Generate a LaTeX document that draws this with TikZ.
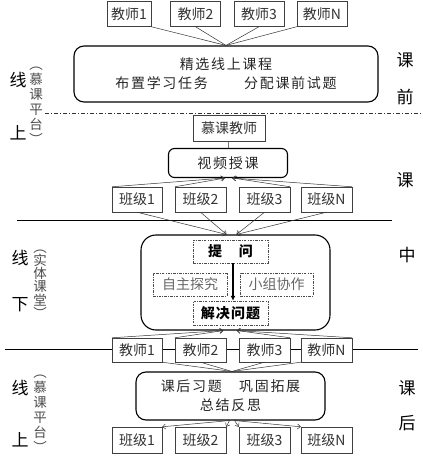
\documentclass[tikz,border=0pt]{standalone}
\usepackage{fontspec}
\setmainfont{Noto Sans CJK SC}
\usetikzlibrary{arrows.meta}

\begin{document}
\begin{tikzpicture}[x=1pt, y=-1pt,
  box/.style={draw=black!75, fill=white, minimum width=50pt, minimum height=25pt,
    inner sep=0pt, text=black!80, font=\fontsize{14}{14}\selectfont},
  rbox/.style={draw, line width=1.1pt, fill=white, inner sep=0pt, align=center,
    text=black!85, font=\fontsize{14}{19}\selectfont\addfontfeature{LetterSpace=12}},
  dbox/.style={draw=black!70, dash pattern=on 2.5pt off 1.2pt on 0.8pt off 1.2pt,
    minimum height=23pt, inner sep=0pt, font=\fontsize{14}{14}\selectfont},
  side/.style={font=\fontsize{17}{17}\selectfont},
  vcol/.style={align=center, text=black!70},
  link/.style={black!80, line width=0.5pt},
  arr/.style={link, -{Straight Barb[length=3pt,width=5pt]}}]
  \useasboundingbox (0,0) rectangle (422,470);

  % before class
  \node[box, minimum width=44pt] (t1) at (129,14) {教师1};
  \node[box] (t2) at (195.5,14) {教师2};
  \node[box] (t3) at (259,14) {教师3};
  \node[box] (tN) at (322,14) {教师N};
  \node[rbox, rounded corners=10pt, minimum width=304pt, minimum height=56pt] (plan) at (226,74)
    {精选线上课程\\布置学习任务\hspace{2.6em}分配课前试题};
  \draw[link] (t1.south east) -- (plan.north);
  \draw[link] (t2.south) -- (plan.north);
  \draw[link] (t3.south) -- (plan.north);
  \draw[link] (tN.south west) -- (plan.north);
  \node[side] (k1) at (405,60) {课};
  \node[side] (q1) at (405,97) {前};
  \node[side] (x1) at (18,80) {线};
  \node[side] (s1) at (18,133) {上};
  \node[vcol, font=\fontsize{13.5}{15}\selectfont] (m1) at (36,106) {︵\\慕\\课\\平\\台\\︶};
  \draw[black!80, line width=0.8pt, dash pattern=on 4pt off 2pt on 1pt off 2pt] (45,113) -- (422,113);

  % in class
  \node[box, minimum width=72pt, minimum height=26pt] (mt) at (229,128) {慕课教师};
  \node[rbox, rounded corners=6pt, minimum width=119pt, minimum height=29pt] (video) at (228,163) {视频授课};
  \draw[link] (mt) -- (video);
  \node[box] (c1) at (137,199.5) {班级1};
  \node[box, minimum width=51pt] (c2) at (200.5,199.5) {班级2};
  \node[box, minimum width=51pt] (c3) at (264.5,199.5) {班级3};
  \node[box, minimum width=51pt] (cN) at (326.5,199.5) {班级N};
  \draw[arr] (c1.north west) -- ([xshift=-4pt]video.south);
  \draw[arr] (c2.north west) -- ([xshift=-3pt]video.south);
  \draw[arr] (c3.north east) -- ([xshift=5pt]video.south);
  \draw[arr] (cN.north east) -- ([xshift=4pt]video.south);
  \node[side] (k2) at (405,180) {课};
  \draw[black, line width=0.9pt] (17,220) -- (392,220);

  \node[draw, line width=1.1pt, rounded corners=15pt, minimum width=189pt, minimum height=95pt] (room) at (235.5,282.5) {};
  \node[dbox, minimum width=75pt, font=\fontsize{14}{14}\selectfont\bfseries] (ask) at (230.5,251.5) {提\hspace{1.2em}问};
  \node[dbox, minimum width=74pt, text=black!60] (self) at (190,284.5) {自主探究};
  \node[dbox, minimum width=73pt, text=black!60] (group) at (276.5,284.5) {小组协作};
  \node[dbox, minimum width=75pt, minimum height=24pt, font=\fontsize{14}{14}\selectfont\bfseries\addfontfeature{LetterSpace=8}] (solve) at (230.5,313) {解决问题};
  \draw[line width=1.3pt, -{Latex[length=5pt,width=5pt]}] ([xshift=2.5pt]ask.south) -- ([xshift=2.5pt]solve.north);
  \draw[arr] (c1.south) -- ([xshift=-9pt]room.north);
  \draw[arr] (c2.south) -- ([xshift=-9pt]room.north);
  \draw[arr] (c3.south) -- ([xshift=1pt]room.north);
  \draw[arr] (cN.south) -- ([xshift=1pt]room.north);
  \node[side] (x2) at (20,258) {线};
  \node[side] (s2) at (20,305) {下};
  \node[vcol, font=\fontsize{13.5}{13.3}\selectfont] (m2) at (40,284) {︵\\实\\体\\课\\堂\\︶};
  \node[side] (k3) at (407,255) {中};

  % after class
  \draw[black, line width=0.9pt] (5,349) -- (418,349);
  \node[box, minimum height=24pt] (e1) at (137,350) {教师1};
  \node[box, minimum width=51pt, minimum height=24pt] (e2) at (200.5,350) {教师2};
  \node[box, minimum width=51pt, minimum height=24pt] (e3) at (264.5,350) {教师3};
  \node[box, minimum width=51pt, minimum height=24pt] (eN) at (326.5,350) {教师N};
  \draw[arr] (e1.north west) -- ([xshift=-12.5pt]room.south);
  \draw[arr] (e2.north west) -- ([xshift=-12pt]room.south);
  \draw[arr] (e3.north east) -- ([xshift=1.5pt]room.south);
  \draw[arr] (eN.north east) -- ([xshift=1pt]room.south);

  \node[rbox, rounded corners=10pt, minimum width=189pt, minimum height=48pt] (review) at (230.5,396)
    {课后习题　巩固拓展\\总结反思};
  \draw[link] (e1.south east) -- ([xshift=1.5pt]review.north);
  \draw[link] (e2.south) -- ([xshift=1.5pt]review.north);
  \draw[link] (e3.south) -- ([xshift=1.5pt]review.north);
  \draw[link] (eN.south west) -- ([xshift=1.5pt]review.north);
  \node[box, minimum height=26pt] (d1) at (137,440) {班级1};
  \node[box, minimum width=51pt, minimum height=26pt] (d2) at (200.5,440) {班级2};
  \node[box, minimum width=51pt, minimum height=26pt] (d3) at (264.5,440) {班级3};
  \node[box, minimum width=51pt, minimum height=26pt] (dN) at (326.5,440) {班级N};
  \draw[arr] ([xshift=-1pt]review.south) -- (d1.north east);
  \draw[arr] ([xshift=-1pt]review.south) -- (d2.north east);
  \draw[arr] ([xshift=4pt]review.south) -- (d3.north west);
  \draw[arr] ([xshift=4pt]review.south) -- (dN.north west);
  \node[side] (k4) at (407,388) {课};
  \node[side] (h4) at (407,423) {后};
  \node[side] (x3) at (20,388) {线};
  \node[side] (s3) at (20,440) {上};
  \node[vcol, font=\fontsize{13.5}{15}\selectfont] (m3) at (40,414) {︵\\慕\\课\\平\\台\\︶};
\end{tikzpicture}
\end{document}
